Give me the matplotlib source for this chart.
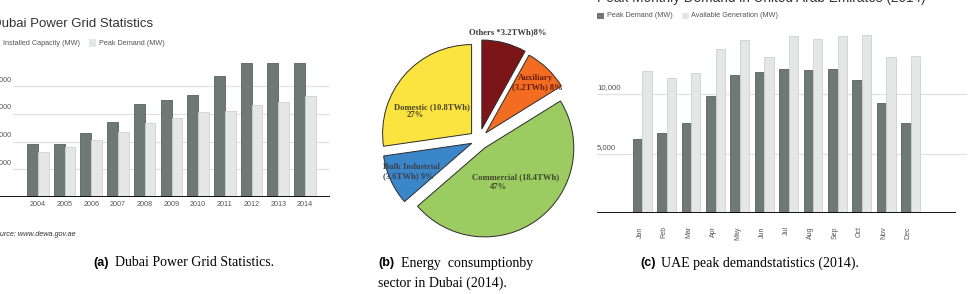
import matplotlib
matplotlib.use('Agg')
import matplotlib.pyplot as plt
from matplotlib.patches import Rectangle

# canvas in pixels, everything below is placed in pixel units (top-left origin)
W, H = 969, 294

# (a) Dubai power grid statistics
years = list(range(2004, 2015))
installed_mw = [3800, 3800, 4600, 5440, 6690, 7000, 7360, 8740, 9660, 9660, 9660]
peak_dubai_mw = [3230, 3590, 4115, 4715, 5320, 5680, 6115, 6210, 6620, 6860, 7270]
dubai_ticks = [2000, 4000, 6000, 8000]

# (b) energy consumption by sector
sector_pct = [8, 8, 47, 9, 27]
sector_colors = ['#7b1518', '#f26d21', '#9ccb62', '#3b86c8', '#fbe43f']
sector_explode = [0.127, 0.11, 0.11, 0.09, 0.11]

# (c) UAE peak monthly demand
months = ['Jan', 'Feb', 'Mar', 'Apr', 'May', 'Jun', 'Jul', 'Aug', 'Sep', 'Oct', 'Nov', 'Dec']
uae_peak_mw = [6220, 6750, 7535, 9830, 11620, 11850, 12100, 12020, 12070, 11150, 9240, 7590]
uae_avail_mw = [11930, 11370, 11790, 13780, 14540, 13130, 14900, 14650, 14870, 14930, 13110, 13170]
uae_ticks = [5000, 10000]

DARK = '#6e7875'
DARK_EDGE = '#59625f'
LIGHT = '#e4e7e6'
LIGHT_EDGE = '#cdd2d0'
GRID = '#e2e2e2'
TXT = '#555555'
SANS = 'Liberation Sans'


def rect(x0, y0, x1, y1):
    return [x0 / W, 1 - y1 / H, (x1 - x0) / W, (y1 - y0) / H]


def ftext(x, y, s, **kw):
    return fig.text(x / W, 1 - y / H, s, **kw)


fig = plt.figure(figsize=(W / 100, H / 100), dpi=100)

# ---------------- panel (a) ----------------
ax1 = fig.add_axes(rect(0, 50, 330, 197))
ax1.set_xlim(2004 - 38 / 26.7, 2004 + (330 - 38) / 26.7)
ax1.set_ylim(0, 147 / 0.01385)
for v in dubai_ticks:
    ax1.axhline(v, xmin=13 / 330, xmax=1, color=GRID, lw=0.9, zorder=0)
    ax1.text(12 / 330, v + 430, str(v), transform=ax1.get_yaxis_transform(),
             ha='right', va='center', fontsize=5.2, color=TXT, family=SANS)
# dark bar left of the year, light bar right of it
ax1.bar(years, installed_mw, width=-0.41, align='edge', color=DARK,
        edgecolor=DARK_EDGE, lw=0.6, zorder=2)
ax1.bar(years, peak_dubai_mw, width=0.40, align='edge',
        color=LIGHT, edgecolor=LIGHT_EDGE, lw=0.6, zorder=2)
ax1.axhline(0, color='black', lw=1.3, zorder=3)
ax1.set_xticks(years)
ax1.set_xticklabels([str(y) for y in years], fontsize=5.2, color=TXT, family=SANS)
ax1.tick_params(axis='x', length=0, pad=3)
ax1.set_yticks([])
for s in ax1.spines.values():
    s.set_visible(False)
ax1.patch.set_alpha(0)

ftext(-8.5, 24, 'Dubai Power Grid Statistics', fontsize=9.5, color='#333333',
      family=SANS, ha='left', va='center')
fig.patches.append(Rectangle((-7 / W, 1 - 46 / H), 6 / W, 6 / H, transform=fig.transFigure,
                             facecolor=DARK, edgecolor='none'))
ftext(3, 43, 'Installed Capacity (MW)', fontsize=5.2, color=TXT, family=SANS, va='center')
fig.patches.append(Rectangle((89 / W, 1 - 46.5 / H), 7 / W, 7 / H, transform=fig.transFigure,
                             facecolor=LIGHT, edgecolor='none'))
ftext(99, 43, 'Peak Demand (MW)', fontsize=5.2, color=TXT, family=SANS, va='center')
ftext(-8.6, 235, 'Source: www.dewa.gov.ae', fontsize=5.2, color='#333333', family=SANS,
      style='italic', va='center')

# ---------------- panel (b) ----------------
cx, cy, r = 479, 140, 89
axp = fig.add_axes(rect(cx - 130, cy - 130, cx + 130, cy + 130))
axp.pie(sector_pct, colors=sector_colors, explode=sector_explode, startangle=90,
        counterclock=False, radius=1,
        wedgeprops=dict(edgecolor='#2a2a2a', linewidth=0.7))
axp.set_xlim(-130 / r, 130 / r)
axp.set_ylim(-130 / r, 130 / r)
axp.axis('off')

pie_font = dict(family='Liberation Serif', fontweight='bold', fontsize=6.2)
ftext(507.5, 32, 'Others *3.2TWh)8%', color='#3c3c3c', ha='center', va='center', **pie_font)
ftext(535.5, 78.5, 'Auxiliary', color='#6b1c0c', ha='center', va='center', **pie_font)
ftext(537, 87, '(3.2TWh) 8%', color='#6b1c0c', ha='center', va='center', **pie_font)
ftext(394, 106.7, 'Domestic (10.8TWh)', color='#4a4428', ha='left', va='center', **pie_font)
ftext(407, 115.5, '27%', color='#4a4428', ha='left', va='center', **pie_font)
ftext(383, 166.7, 'Bulk Industrial', color='#3a4250', ha='left', va='center', **pie_font)
ftext(383, 176.5, '(3.6TWh) 9%', color='#3a4250', ha='left', va='center', **pie_font)
ftext(472, 177.3, 'Commercial (18.4TWh)', color='#3d4a2a', ha='left', va='center', **pie_font)
ftext(490, 187, '47%', color='#3d4a2a', ha='left', va='center', **pie_font)

# ---------------- panel (c) ----------------
ax3 = fig.add_axes(rect(597, 213 - 16000 * 0.0119, 967, 213))
ax3.set_xlim(-(642.3 - 597) / 24.4, (967 - 642.3) / 24.4)
ax3.set_ylim(0, 16000)
idx = list(range(len(months)))
for v in uae_ticks:
    ax3.axhline(v, color=GRID, lw=0.9, zorder=0)
    ax3.text(0, v + 504, f'{v:,}', transform=ax3.get_yaxis_transform(),
             ha='left', va='center', fontsize=5.6, color=TXT, family=SANS)
ax3.bar(idx, uae_peak_mw, width=-0.39, align='edge', color=DARK,
        edgecolor=DARK_EDGE, lw=0.6, zorder=2)
ax3.bar(idx, uae_avail_mw, width=0.38, align='edge', color=LIGHT,
        edgecolor=LIGHT_EDGE, lw=0.6, zorder=2)
ax3.axhline(0, xmin=0, xmax=(955 - 597) / 370, color='black', lw=1.3, zorder=3)
ax3.set_xticks([i - 0.1 for i in idx])
ax3.set_xticklabels(months, rotation=90, fontsize=5.0, color=TXT, family=SANS)
ax3.tick_params(axis='x', length=0, pad=9.5)
ax3.set_yticks([])
for s in ax3.spines.values():
    s.set_visible(False)
ax3.patch.set_alpha(0)

ftext(597, 2, 'Peak Monthly Demand in United Arab Emirates (2014)', fontsize=9.8,
      color='#333333', family=SANS, ha='left', va='baseline')
fig.patches.append(Rectangle((597 / W, 1 - 19 / H), 7 / W, 6.5 / H, transform=fig.transFigure,
                             facecolor=DARK, edgecolor='none'))
ftext(607, 15.7, 'Peak Demand (MW)', fontsize=5.2, color=TXT, family=SANS, va='center')
fig.patches.append(Rectangle((682 / W, 1 - 19 / H), 7 / W, 6.5 / H, transform=fig.transFigure,
                             facecolor=LIGHT, edgecolor='none'))
ftext(691, 15.7, 'Available Generation (MW)', fontsize=5.2, color=TXT, family=SANS, va='center')

# ---------------- captions ----------------
cap = dict(family='Liberation Serif', fontsize=10, color='black', va='center', ha='left')
lab = dict(family=SANS, fontweight='bold', fontsize=9, color='black', va='center', ha='left')
ftext(93, 263, '(a)', **lab)
ftext(115, 263, 'Dubai Power Grid Statistics.', **cap)
ftext(378, 263, '(b)', **lab)
ftext(401, 263, 'Energy  consumptionby', **cap)
ftext(378, 283, 'sector in Dubai (2014).', **cap)
ftext(640, 263, '(c)', **lab)
ftext(661, 263, 'UAE peak demandstatistics (2014).', **cap)

fig.savefig('out.png', dpi=100)
